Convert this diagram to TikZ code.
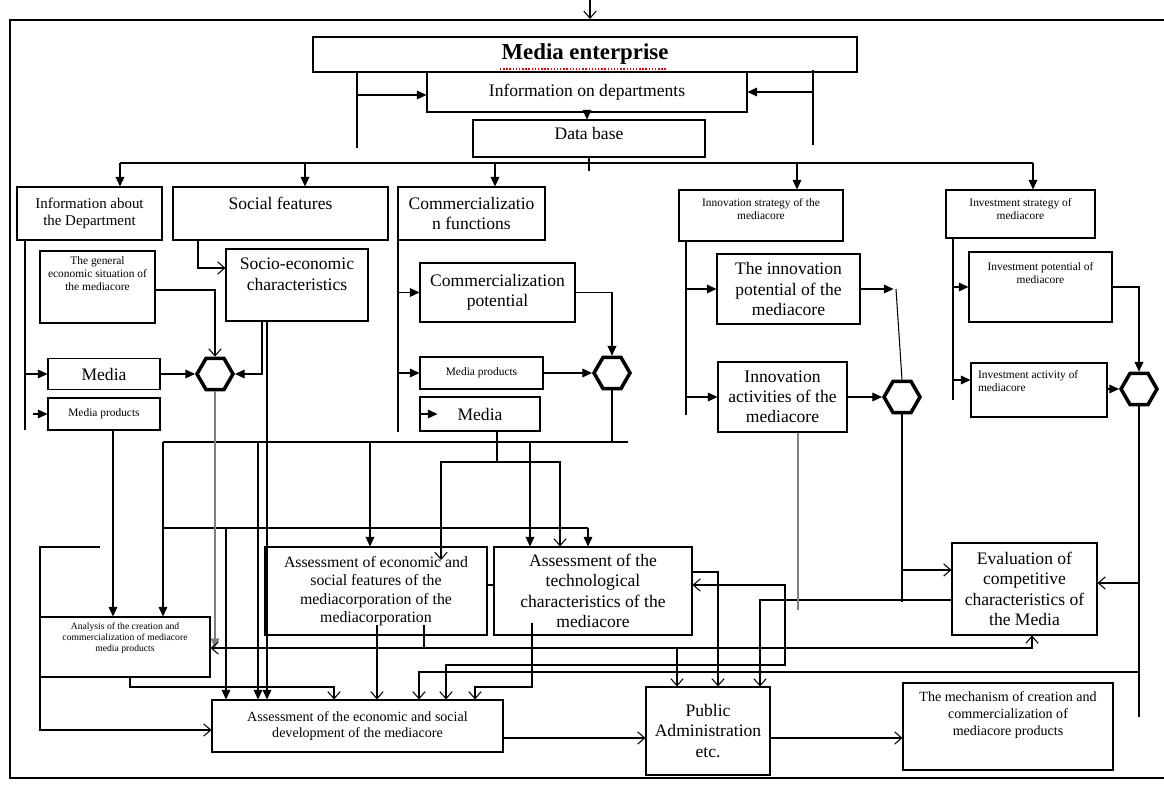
\documentclass[tikz,border=0pt]{standalone}
\usepackage{fontspec}
\setmainfont{Liberation Serif}
\usetikzlibrary{arrows.meta,shapes.geometric}

\begin{document}
\begin{tikzpicture}[x=0.02cm, y=-0.02cm, line width=0.6pt,
  box/.style={draw, align=center, inner sep=1pt, font=\fontsize{10}{11.5}\selectfont},
  sz/.style 2 args={minimum width=#1*0.02cm, minimum height=#2*0.02cm},
  mini/.style={font=\fontsize{6.5}{7.5}\selectfont},
  midi/.style={font=\fontsize{8}{9.5}\selectfont},
  hexa/.style={draw, line width=2pt, regular polygon, regular polygon sides=6, minimum size=0.72cm, inner sep=0pt},
  fa/.style={-{Triangle[length=5.5pt,width=5pt]}},
  oa/.style={-{Straight Barb[length=4pt,width=7pt]}},
  oaoa/.style={{Straight Barb[length=4pt,width=7pt]}-{Straight Barb[length=4pt,width=7pt]}}]
\useasboundingbox (0,0) rectangle (1164,786);

% Frame
\draw (1164,20) -- (10,20) -- (10,778) -- (1164,778);
\coordinate (top) at (590,0);
\draw[oa] (top) -- (590,19);

% Head blocks
\node[box, sz={544}{35}, font=\bfseries\fontsize{13}{15}\selectfont] (enterprise) at (585,54.5) {Media enterprise};
\draw[red, densely dotted, line width=0.8pt] (500,69) -- (667,69);
\node[box, sz={320}{40}] (infodep) at (587,92) {Information on departments};
\node[box, sz={232}{37}, label={[anchor=north, inner sep=4pt, font=\fontsize{10}{12}\selectfont]north:Data base}] (database) at (589,138.5) {};

% Second row
\node[box, sz={145}{53}, font=\fontsize{8.5}{10}\selectfont] (infoabout) at (89.5,213.5) {Information about\\the Department};
\node[box, sz={215}{53}, label={[anchor=north, inner sep=6pt, font=\fontsize{10}{12}\selectfont]north:Social features}] (social) at (280.5,213.5) {};
\node[box, sz={147}{53}] (commfunc) at (471.5,213.5) {Commercializatio\\n functions};
\node[box, sz={164}{51}, label={[anchor=north, align=center, inner sep=5pt, mini]north:Innovation strategy of the\\mediacore}] (innostrat) at (761,215.5) {};
\node[box, sz={149}{48}, label={[anchor=north, align=center, inner sep=5pt, mini]north:Investment strategy of\\mediacore}] (investstrat) at (1020.5,214) {};

% Third row
\node[box, sz={115}{72}, label={[anchor=north, align=center, inner sep=3pt, mini]north:The general\\economic situation of\\the mediacore}] (general) at (97.5,287) {};
\node[box, sz={142}{72}, label={[anchor=north, align=center, inner sep=5pt, font=\fontsize{10}{12}\selectfont]north:Socio-economic\\characteristics}] (socio) at (297,285) {};
\node[box, sz={155}{59}] (commpot) at (497.5,292.5) {Commercialization\\potential};
\node[box, sz={143}{70}] (innopot) at (788.5,289) {The innovation\\potential of the\\mediacore};
\node[box, sz={143}{70}, label={[anchor=north, align=center, inner sep=6pt, mini]north:Investment potential of\\mediacore}] (investpot) at (1040.5,287) {};

% Fourth row
\node[box, sz={112}{31}] (medialeft) at (104,374) {Media};
\node[box, sz={112}{32}, mini] (prodleft) at (104,414) {Media products};
\node[hexa] (h1) at (215,374) {};
\node[box, sz={123}{32}, mini] (prodmid) at (481.5,373) {Media products};
\node[box, sz={120}{34}] (mediamid) at (480,414) {Media};
\node[hexa] (h2) at (612,373) {};
\node[box, sz={129}{70}] (innoact) at (782.5,397) {Innovation\\activities of the\\mediacore};
\node[hexa] (h3) at (902,397) {};
\node[box, sz={136}{54}, label={[anchor=north west, align=left, inner sep=4pt, mini]north west:Investment activity of\\mediacore}] (investact) at (1039,390) {};
\node[hexa] (h4) at (1139,389) {};

% Assessment blocks
\node[box, sz={170}{60}, label={[anchor=north, align=center, inner sep=3pt, font=\fontsize{5.5}{6.5}\selectfont]north:Analysis of the creation and\\commercialization of mediacore\\media products}] (analysis) at (125,647) {};
\node[box, sz={222}{88}, font=\fontsize{9}{10.5}\selectfont] (econfeat) at (376,591) {Assessment of economic and\\social features of the\\mediacorporation of the\\mediacorporation};
\node[box, sz={198}{88}] (techchar) at (593,591) {Assessment of the\\technological\\characteristics of the\\mediacore};
\node[box, sz={145}{92}] (evalcomp) at (1024.5,589) {Evaluation of\\competitive\\characteristics of\\the Media};
\node[box, sz={291}{52}, midi] (devel) at (357.5,726) {Assessment of the economic and social\\development of the mediacore};
\node[box, sz={124}{88}] (public) at (708,731) {Public\\Administration\\etc.};
\node[box, sz={210}{87}, label={[anchor=north, align=center, inner sep=5pt, midi]north:The mechanism of creation and\\commercialization of\\mediacore products}] (mechanism) at (1008,726.5) {};

% Feedback beside the enterprise
\draw (357,72) -- (357,148);
\draw[fa] (357,95) -- (infodep.west |- 0,95);
\draw (813,70) -- (813,145);
\draw[fa] (813,92) -- (infodep.east |- 0,92);
\draw[fa] (infodep.south) -- (infodep.south |- database.north);

% Distribution bus
\draw (database.south) -- ++(0,13);
\draw (120,163) -- (1033,163);
\foreach \x/\n in {120/infoabout,305/social,495/commfunc,797/innostrat,1033/investstrat}
  \draw[fa] (\x,163) -- (\x,0 |- \n.north);

% Department and social features
\draw (25,240) -- (25,430);
\draw[fa] (25,374) -- (medialeft.west);
\draw[fa] (33,414) -- (prodleft.west);
\draw[oa] (general.east |- 0,290) -| (h1.north);
\draw[fa] (medialeft.east) -- (h1.west);
\draw[oa] (social.south -| 198,0) |- (socio.west |- 0,268);
\draw[fa] (socio.south -| 262,0) |- (h1.east);
\draw[fa] (socio.south -| 267,0) -- (devel.north -| 267,0);

% Commercialization
\draw (398,240) -- (398,432);
\draw[fa] (commpot.west -| 398,0) -- (commpot.west);
\draw[fa] (prodmid.west -| 398,0) -- (prodmid.west);
\draw[fa] (mediamid.west) -- ++(18,0);
\draw[fa] (commpot.east) -| (h2.north);
\draw[fa] (prodmid.east) -- (h2.west);

% Innovation
\draw (686,241) -- (686,415);
\draw[fa] (innopot.west -| 686,0) -- (innopot.west);
\draw[fa] (innoact.west -| 686,0) -- (innoact.west);
\draw[fa] (innopot.east) -- ++(33,0);
\draw (896,289) -- (h3.north);
\draw[fa] (innoact.east) -- (h3.west);

% Investment
\draw (953,238) -- (953,400);
\draw[fa] (investpot.west -| 953,0) -- (investpot.west);
\draw[fa] (953,380) -- (investact.west |- 0,380);
\draw[fa] (investpot.east) -| (h4.north);
\draw[fa] (h4.west -| investact.east) -- (h4.west);

% First bus
\draw (163,442) -- (628,442);
\draw (h2.south) -- (612,442);
\draw[fa] (163,442) -- (analysis.north -| 163,0);
\draw[fa] (prodleft.south -| 113,0) -- (analysis.north -| 113,0);
\draw[fa] (370,442) -- (econfeat.north -| 370,0);
\draw[fa] (530,442) -- (techchar.north -| 530,0);
\draw[fa] (258,442) -- (devel.north -| 258,0);
\draw (mediamid.south -| 497,0) -- (497,462);
\draw[oa] (497,462) -| (441,560);
\draw[oa] (497,462) -| (techchar.north -| 560,0);

% Second bus
\draw (163,528) -- (588,528);
\draw[fa] (588,528) -- (techchar.north -| 588,0);
\draw[fa] (226,528) -- (devel.north -| 226,0);
\draw[fa, gray] (h1.south) -- (h1.south |- 0,648);

% Lower connections
\draw[oaoa] (analysis.east |- 0,648) -| (evalcomp.south -| 1032,0);
\draw (424,625) -- (424,648);
\draw (econfeat.east |- 0,585) -- (techchar.west |- 0,585);
\draw[oa] (377,625) -- (devel.north -| 377,0);
\draw[oa] (analysis.south -| 130,0) |- (334,687) -- (devel.north -| 334,0);
\draw[oa] (532,623) |- (475,687) -- (devel.north -| 475,0);
\draw[oaoa] (techchar.east |- 0,585) -| (785,665) -| (devel.north -| 446,0);
\draw[oa] (1139,672) -| (devel.north -| 419,0);
\draw (h4.south) -- (h4.south |- 0,717);
\draw[oa] (1139,583) -- (evalcomp.east |- 0,583);
\draw[oa] (677,648) -- (public.north -| 677,0);
\draw[oa] (techchar.east |- 0,572) -| (public.north -| 718,0);
\draw[oa] (evalcomp.west |- 0,600) -| (public.north -| 760,0);
\draw[gray] (innoact.south -| 798,0) -- (798,610);
\draw (h3.south) -- (902,602);
\draw[oa] (902,570) -- (evalcomp.west |- 0,570);
\draw[oa] (100,547) -| (40,730) -- (devel.west |- 0,730);
\draw[oa] (devel.east |- 0,738) -- (public.west |- 0,738);
\draw[oa] (public.east |- 0,738) -- (mechanism.west |- 0,738);
\end{tikzpicture}
\end{document}
